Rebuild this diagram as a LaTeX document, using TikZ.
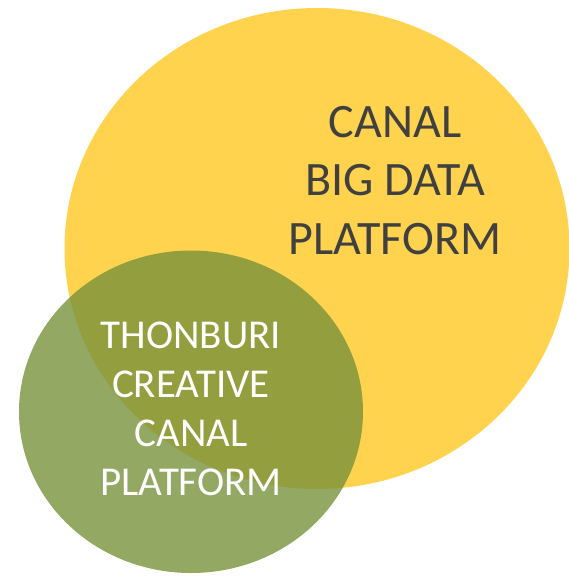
\documentclass[tikz,border=0pt]{standalone}
\usepackage{fontspec}
\setmainfont{Carlito}
\definecolor{bigyellow}{RGB}{255,211,77}
\definecolor{olive}{RGB}{120,146,59}
\definecolor{darktext}{RGB}{64,64,64}
\tikzset{
  bigset/.style={fill=bigyellow, draw=none},
  smallset/.style={fill=olive, fill opacity=0.8, draw=none},
  bigtext/.style={text=darktext, align=center, inner sep=0pt, font=\fontsize{48}{58.5}\selectfont},
  smalltext/.style={text=white, align=center, inner sep=0pt, font=\fontsize{41}{49}\selectfont},
}
\begin{document}
\begin{tikzpicture}[x=1pt,y=-1pt]
\useasboundingbox (0,0) rectangle (569,576);
\fill[bigset] (317,248.5) ellipse [x radius=252.5, y radius=240.5];
\fill[smallset] (191,411.75) ellipse [x radius=172, y radius=161.25];
\node[bigtext] (big) at (395,180.5) {CANAL\\BIG DATA\\PLATFORM};
\node[smalltext] (small) at (191,409) {THONBURI\\CREATIVE\\CANAL\\PLATFORM};
\end{tikzpicture}
\end{document}
